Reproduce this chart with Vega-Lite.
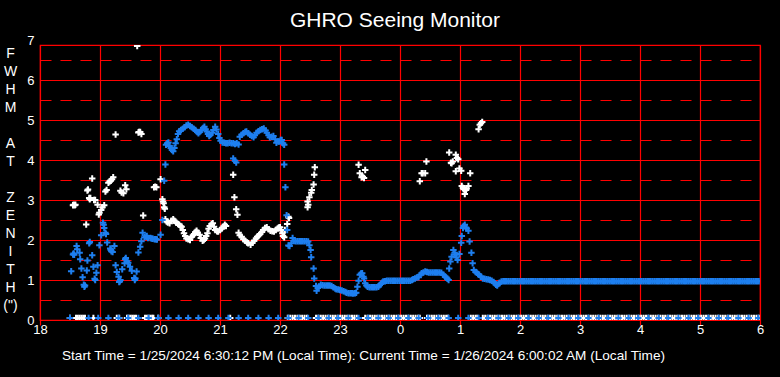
{
"$schema": "https://vega.github.io/schema/vega-lite/v6.json",
"width": 720, "height": 275,
"autosize": {"type": "none"},
"padding": {"left": 40, "top": 45, "right": 20, "bottom": 57},
"background": "#000000",
"title": {"text": "GHRO Seeing Monitor", "color": "#ffffff", "fontSize": 21, "fontWeight": "normal", "font": "Liberation Sans", "anchor": "middle", "frame": "group", "offset": 2, "dx": -5, "dy": -1},
"datasets": {
"white": [
{"t":18.50,"v":0.05},{"t":18.60,"v":0.05},{"t":18.63,"v":0.05},{"t":18.66,"v":0.05},{"t":18.69,"v":0.05},{"t":18.72,"v":0.05},{"t":18.75,"v":0.05},{"t":18.89,"v":0.05},{"t":19.28,"v":0.05},{"t":19.32,"v":0.05},{"t":19.45,"v":0.05},{"t":19.48,"v":0.05},{"t":19.51,"v":0.05},{"t":19.54,"v":0.05},{"t":19.57,"v":0.05},{"t":19.60,"v":0.05},{"t":19.75,"v":0.05},{"t":19.78,"v":0.05},{"t":19.81,"v":0.05},{"t":19.84,"v":0.05},{"t":19.87,"v":0.05},{"t":19.89,"v":0.05},{"t":19.97,"v":0.05},{"t":21.17,"v":0.05},
{"t":22.13,"v":0.05},{"t":22.17,"v":0.05},{"t":22.21,"v":0.05},{"t":22.25,"v":0.05},{"t":22.29,"v":0.05},{"t":22.33,"v":0.05},{"t":22.37,"v":0.05},{"t":22.41,"v":0.05},{"t":22.45,"v":0.05},
{"t":22.60,"v":0.05},{"t":22.64,"v":0.05},{"t":22.68,"v":0.05},{"t":22.72,"v":0.05},{"t":22.76,"v":0.05},{"t":22.80,"v":0.05},{"t":22.84,"v":0.05},{"t":22.88,"v":0.05},{"t":22.92,"v":0.05},{"t":22.96,"v":0.05},{"t":23.00,"v":0.05},{"t":23.04,"v":0.05},{"t":23.08,"v":0.05},{"t":23.12,"v":0.05},{"t":23.16,"v":0.05},{"t":23.20,"v":0.05},{"t":23.24,"v":0.05},{"t":23.28,"v":0.05},
{"t":23.42,"v":0.05},{"t":23.46,"v":0.05},{"t":23.50,"v":0.05},{"t":23.54,"v":0.05},{"t":23.58,"v":0.05},{"t":23.62,"v":0.05},{"t":23.66,"v":0.05},{"t":23.70,"v":0.05},{"t":23.74,"v":0.05},{"t":23.78,"v":0.05},{"t":23.82,"v":0.05},{"t":23.86,"v":0.05},{"t":23.90,"v":0.05},{"t":23.94,"v":0.05},{"t":23.98,"v":0.05},{"t":24.02,"v":0.05},{"t":24.06,"v":0.05},{"t":24.10,"v":0.05},{"t":24.14,"v":0.05},{"t":24.18,"v":0.05},{"t":24.22,"v":0.05},{"t":24.26,"v":0.05},{"t":24.30,"v":0.05},{"t":24.33,"v":0.05},
{"t":24.45,"v":0.05},{"t":24.49,"v":0.05},{"t":24.53,"v":0.05},{"t":24.57,"v":0.05},{"t":24.61,"v":0.05},{"t":24.65,"v":0.05},{"t":24.69,"v":0.05},{"t":24.73,"v":0.05},{"t":24.77,"v":0.05},{"t":24.80,"v":0.05},
{"t":25.18,"v":0.05},{"t":25.22,"v":0.05},{"t":25.26,"v":0.05},{"t":25.29,"v":0.05},
{"t":25.38,"v":0.05},{"t":25.42,"v":0.05},{"t":25.46,"v":0.05},{"t":25.50,"v":0.05},{"t":25.54,"v":0.05},{"t":25.58,"v":0.05},{"t":25.62,"v":0.05},{"t":25.66,"v":0.05},{"t":25.70,"v":0.05},{"t":25.74,"v":0.05},{"t":25.78,"v":0.05},{"t":25.82,"v":0.05},{"t":25.86,"v":0.05},{"t":25.90,"v":0.05},{"t":25.94,"v":0.05},{"t":25.98,"v":0.05},{"t":26.02,"v":0.05},{"t":26.06,"v":0.05},{"t":26.10,"v":0.05},{"t":26.14,"v":0.05},{"t":26.18,"v":0.05},{"t":26.22,"v":0.05},{"t":26.26,"v":0.05},{"t":26.30,"v":0.05},{"t":26.34,"v":0.05},{"t":26.38,"v":0.05},{"t":26.42,"v":0.05},{"t":26.46,"v":0.05},{"t":26.50,"v":0.05},{"t":26.54,"v":0.05},{"t":26.58,"v":0.05},{"t":26.62,"v":0.05},{"t":26.66,"v":0.05},{"t":26.70,"v":0.05},{"t":26.74,"v":0.05},{"t":26.78,"v":0.05},{"t":26.82,"v":0.05},{"t":26.86,"v":0.05},{"t":26.90,"v":0.05},{"t":26.94,"v":0.05},{"t":26.98,"v":0.05},{"t":27.02,"v":0.05},{"t":27.06,"v":0.05},{"t":27.10,"v":0.05},{"t":27.14,"v":0.05},{"t":27.18,"v":0.05},{"t":27.22,"v":0.05},{"t":27.26,"v":0.05},{"t":27.30,"v":0.05},{"t":27.34,"v":0.05},{"t":27.38,"v":0.05},{"t":27.42,"v":0.05},{"t":27.46,"v":0.05},{"t":27.50,"v":0.05},{"t":27.54,"v":0.05},{"t":27.58,"v":0.05},{"t":27.62,"v":0.05},{"t":27.66,"v":0.05},{"t":27.70,"v":0.05},{"t":27.74,"v":0.05},{"t":27.78,"v":0.05},{"t":27.82,"v":0.05},{"t":27.86,"v":0.05},{"t":27.90,"v":0.05},{"t":27.94,"v":0.05},{"t":27.98,"v":0.05},{"t":28.02,"v":0.05},{"t":28.06,"v":0.05},{"t":28.10,"v":0.05},{"t":28.14,"v":0.05},{"t":28.18,"v":0.05},{"t":28.22,"v":0.05},{"t":28.26,"v":0.05},{"t":28.30,"v":0.05},{"t":28.34,"v":0.05},{"t":28.38,"v":0.05},{"t":28.42,"v":0.05},{"t":28.46,"v":0.05},{"t":28.50,"v":0.05},{"t":28.54,"v":0.05},{"t":28.58,"v":0.05},{"t":28.62,"v":0.05},{"t":28.66,"v":0.05},{"t":28.70,"v":0.05},{"t":28.74,"v":0.05},{"t":28.78,"v":0.05},{"t":28.82,"v":0.05},{"t":28.86,"v":0.05},{"t":28.90,"v":0.05},{"t":28.94,"v":0.05},{"t":28.98,"v":0.05},{"t":29.02,"v":0.05},{"t":29.06,"v":0.05},{"t":29.10,"v":0.05},{"t":29.14,"v":0.05},{"t":29.18,"v":0.05},{"t":29.22,"v":0.05},{"t":29.26,"v":0.05},{"t":29.30,"v":0.05},{"t":29.34,"v":0.05},{"t":29.38,"v":0.05},{"t":29.42,"v":0.05},{"t":29.46,"v":0.05},{"t":29.50,"v":0.05},{"t":29.54,"v":0.05},{"t":29.58,"v":0.05},{"t":29.62,"v":0.05},{"t":29.66,"v":0.05},{"t":29.70,"v":0.05},{"t":29.74,"v":0.05},{"t":29.78,"v":0.05},{"t":29.82,"v":0.05},{"t":29.86,"v":0.05},{"t":29.90,"v":0.05},{"t":29.94,"v":0.05},{"t":29.98,"v":0.05},
{"t":18.55,"v":2.87},{"t":18.56,"v":2.88},{"t":18.58,"v":2.87},{"t":18.59,"v":2.88},{"t":18.77,"v":2.39},{"t":18.79,"v":3.24},{"t":18.80,"v":3.26},{"t":18.82,"v":3.05},{"t":18.83,"v":3.02},{"t":18.84,"v":3.05},{"t":18.87,"v":3.54},{"t":18.90,"v":3.00},{"t":18.92,"v":3.00},{"t":18.96,"v":2.88},{"t":18.98,"v":2.64},{"t":18.99,"v":2.68},{"t":19.02,"v":2.75},{"t":19.04,"v":2.82},{"t":19.07,"v":2.87},{"t":19.09,"v":3.21},{"t":19.11,"v":3.25},{"t":19.14,"v":3.43},{"t":19.16,"v":3.46},{"t":19.18,"v":3.48},{"t":19.20,"v":3.52},{"t":19.22,"v":3.57},{"t":19.26,"v":4.64},{"t":19.34,"v":3.23},{"t":19.36,"v":3.19},{"t":19.39,"v":3.17},{"t":19.42,"v":3.37},{"t":19.44,"v":3.27},{"t":19.62,"v":6.85},{"t":19.64,"v":4.69},{"t":19.65,"v":4.70},{"t":19.67,"v":4.70},{"t":19.69,"v":4.65},{"t":19.72,"v":2.61},{"t":19.90,"v":3.32},{"t":19.92,"v":3.33},{"t":19.94,"v":3.32},
{"t":20.01,"v":3.52},{"t":20.04,"v":3.02},{"t":20.05,"v":2.96},{"t":20.06,"v":2.92},{"t":20.07,"v":2.82},{"t":20.08,"v":2.78},{"t":20.09,"v":2.52},{"t":20.11,"v":2.46},{"t":20.13,"v":2.44},{"t":20.16,"v":2.42},{"t":20.19,"v":2.48},{"t":20.22,"v":2.52},{"t":20.24,"v":2.48},{"t":20.27,"v":2.43},{"t":20.30,"v":2.40},{"t":20.32,"v":2.38},{"t":20.34,"v":2.35},{"t":20.36,"v":2.33},{"t":20.38,"v":2.25},{"t":20.40,"v":2.17},{"t":20.42,"v":2.10},{"t":20.44,"v":2.04},{"t":20.47,"v":2.02},{"t":20.50,"v":2.00},{"t":20.53,"v":2.08},{"t":20.55,"v":2.12},{"t":20.57,"v":2.15},{"t":20.59,"v":2.20},{"t":20.61,"v":2.23},{"t":20.63,"v":2.18},{"t":20.66,"v":2.13},{"t":20.68,"v":2.05},{"t":20.71,"v":1.98},{"t":20.73,"v":2.00},{"t":20.75,"v":2.04},{"t":20.77,"v":2.10},{"t":20.79,"v":2.17},{"t":20.81,"v":2.28},{"t":20.83,"v":2.35},{"t":20.86,"v":2.40},{"t":20.88,"v":2.42},{"t":20.90,"v":2.33},{"t":20.92,"v":2.25},{"t":20.95,"v":2.22},{"t":20.97,"v":2.21},{"t":21.00,"v":2.25},{"t":21.03,"v":2.29},{"t":21.06,"v":2.34},{"t":21.08,"v":2.38},{"t":21.10,"v":2.35},
{"t":21.22,"v":3.63},{"t":21.24,"v":3.07},{"t":21.27,"v":2.77},{"t":21.29,"v":2.63},{"t":21.31,"v":2.18},{"t":21.33,"v":2.12},{"t":21.36,"v":2.08},{"t":21.39,"v":2.02},{"t":21.42,"v":1.98},{"t":21.45,"v":1.94},{"t":21.47,"v":1.92},{"t":21.51,"v":1.88},{"t":21.54,"v":1.93},{"t":21.57,"v":1.98},{"t":21.60,"v":2.04},{"t":21.62,"v":2.08},{"t":21.65,"v":2.12},{"t":21.67,"v":2.15},{"t":21.70,"v":2.20},{"t":21.72,"v":2.25},{"t":21.75,"v":2.30},{"t":21.78,"v":2.32},{"t":21.81,"v":2.27},{"t":21.84,"v":2.23},{"t":21.87,"v":2.22},{"t":21.90,"v":2.21},{"t":21.93,"v":2.25},{"t":21.96,"v":2.29},{"t":21.98,"v":2.31},{"t":22.00,"v":2.32},{"t":22.02,"v":2.24},{"t":22.04,"v":2.17},{"t":22.05,"v":2.10},{"t":22.07,"v":2.07},{"t":22.08,"v":2.25},{"t":22.12,"v":2.40},{"t":22.14,"v":2.58},{"t":22.15,"v":2.55},
{"t":22.46,"v":2.82},{"t":22.46,"v":2.96},{"t":22.47,"v":2.88},{"t":22.49,"v":3.07},{"t":22.52,"v":3.18},{"t":22.53,"v":3.25},{"t":22.56,"v":3.39},{"t":22.57,"v":3.63},{"t":22.58,"v":3.82},
{"t":23.31,"v":3.88},{"t":23.33,"v":3.67},{"t":23.36,"v":3.57},{"t":23.38,"v":3.58},{"t":23.40,"v":3.55},{"t":23.42,"v":3.75},
{"t":24.33,"v":3.47},{"t":24.36,"v":3.67},{"t":24.38,"v":3.67},{"t":24.42,"v":3.67},{"t":24.44,"v":3.96},
{"t":24.82,"v":4.19},{"t":24.85,"v":3.93},{"t":24.86,"v":3.92},{"t":24.88,"v":3.96},{"t":24.93,"v":4.13},{"t":24.95,"v":4.05},{"t":24.97,"v":4.02},{"t":24.93,"v":3.72},{"t":24.99,"v":3.79},{"t":25.02,"v":3.73},{"t":25.03,"v":3.35},{"t":25.05,"v":3.30},{"t":25.06,"v":3.27},{"t":25.08,"v":3.15},{"t":25.10,"v":3.25},{"t":25.11,"v":3.29},{"t":25.14,"v":3.35},{"t":25.17,"v":3.67},
{"t":25.31,"v":4.77},{"t":25.33,"v":4.88},{"t":25.35,"v":4.92},{"t":25.37,"v":4.95}
],
"blue": [
{"t":18.52,"v":1.22},{"t":18.55,"v":1.64},{"t":18.56,"v":1.66},{"t":18.57,"v":1.63},{"t":18.61,"v":1.85},{"t":18.62,"v":1.77},{"t":18.66,"v":1.68},{"t":18.67,"v":1.52},{"t":18.69,"v":1.29},{"t":18.71,"v":1.07},{"t":18.73,"v":0.88},{"t":18.74,"v":0.83},{"t":18.75,"v":0.86},{"t":18.78,"v":1.24},{"t":18.79,"v":1.49},{"t":18.82,"v":1.92},{"t":18.83,"v":1.95},{"t":18.87,"v":1.62},{"t":18.89,"v":1.33},{"t":18.91,"v":1.03},{"t":18.92,"v":1.00},{"t":18.94,"v":1.18},{"t":18.96,"v":1.37},{"t":18.99,"v":1.87},{"t":19.02,"v":2.12},{"t":19.05,"v":2.43},{"t":19.06,"v":2.38},{"t":19.07,"v":2.30},{"t":19.09,"v":2.18},{"t":19.10,"v":2.15},{"t":19.12,"v":1.94},{"t":19.17,"v":1.79},{"t":19.18,"v":1.75},{"t":19.19,"v":1.72},{"t":19.21,"v":1.70},{"t":19.24,"v":1.85},{"t":19.26,"v":1.37},{"t":19.28,"v":1.20},{"t":19.31,"v":1.08},{"t":19.32,"v":0.95},{"t":19.33,"v":0.97},{"t":19.34,"v":1.00},{"t":19.37,"v":1.27},{"t":19.41,"v":1.42},{"t":19.42,"v":1.52},{"t":19.43,"v":1.55},{"t":19.45,"v":1.47},{"t":19.47,"v":1.43},{"t":19.50,"v":1.33},{"t":19.53,"v":1.23},{"t":19.57,"v":1.05},{"t":19.58,"v":1.00},{"t":19.59,"v":1.04},{"t":19.61,"v":1.21},{"t":19.64,"v":1.69},{"t":19.67,"v":1.83},{"t":19.69,"v":1.97},{"t":19.71,"v":2.18},{"t":19.74,"v":2.07},{"t":19.77,"v":2.08},{"t":19.78,"v":2.10},{"t":19.80,"v":2.05},{"t":19.84,"v":2.05},{"t":19.86,"v":2.04},{"t":19.88,"v":2.03},{"t":19.91,"v":2.02},{"t":19.93,"v":2.02},{"t":19.95,"v":2.01},{"t":20.01,"v":2.13},{"t":20.04,"v":2.50},{"t":20.07,"v":3.48},{"t":20.09,"v":3.89},
{"t":20.10,"v":4.38},{"t":20.12,"v":4.42},{"t":20.14,"v":4.44},{"t":20.16,"v":4.35},{"t":20.18,"v":4.30},{"t":20.20,"v":4.25},{"t":20.22,"v":4.22},{"t":20.24,"v":4.30},{"t":20.26,"v":4.42},{"t":20.28,"v":4.52},{"t":20.30,"v":4.65},{"t":20.32,"v":4.72},{"t":20.35,"v":4.75},{"t":20.38,"v":4.78},{"t":20.41,"v":4.82},{"t":20.44,"v":4.86},{"t":20.47,"v":4.88},{"t":20.50,"v":4.85},{"t":20.53,"v":4.82},{"t":20.56,"v":4.78},{"t":20.59,"v":4.75},{"t":20.62,"v":4.70},{"t":20.64,"v":4.67},{"t":20.66,"v":4.70},{"t":20.69,"v":4.75},{"t":20.72,"v":4.80},{"t":20.74,"v":4.83},{"t":20.76,"v":4.77},{"t":20.78,"v":4.71},{"t":20.80,"v":4.65},{"t":20.82,"v":4.60},{"t":20.84,"v":4.63},{"t":20.87,"v":4.68},{"t":20.89,"v":4.75},{"t":20.92,"v":4.83},{"t":20.94,"v":4.76},{"t":20.97,"v":4.65},{"t":20.99,"v":4.55},{"t":21.01,"v":4.48},{"t":21.04,"v":4.44},{"t":21.07,"v":4.43},{"t":21.10,"v":4.42},{"t":21.13,"v":4.42},{"t":21.16,"v":4.43},{"t":21.19,"v":4.42},{"t":21.22,"v":4.42},{"t":21.25,"v":4.40},{"t":21.28,"v":4.42},{"t":21.31,"v":4.39},{"t":21.33,"v":4.58},{"t":21.36,"v":4.63},{"t":21.39,"v":4.67},{"t":21.42,"v":4.70},{"t":21.44,"v":4.71},{"t":21.47,"v":4.67},{"t":21.50,"v":4.63},{"t":21.53,"v":4.60},{"t":21.56,"v":4.57},{"t":21.58,"v":4.62},{"t":21.61,"v":4.68},{"t":21.64,"v":4.72},{"t":21.67,"v":4.75},{"t":21.70,"v":4.77},{"t":21.73,"v":4.79},{"t":21.76,"v":4.74},{"t":21.78,"v":4.68},{"t":21.81,"v":4.62},{"t":21.83,"v":4.57},{"t":21.86,"v":4.58},{"t":21.89,"v":4.60},{"t":21.92,"v":4.52},{"t":21.94,"v":4.43},{"t":21.97,"v":4.46},{"t":21.99,"v":4.46},{"t":22.01,"v":4.50},{"t":22.03,"v":4.50},{"t":22.05,"v":4.42},{"t":22.07,"v":4.38},
{"t":21.22,"v":4.04},{"t":21.25,"v":3.98},{"t":21.27,"v":3.94},{"t":22.07,"v":3.89},{"t":22.09,"v":3.32},{"t":22.11,"v":2.62},{"t":22.12,"v":2.25},
{"t":22.14,"v":1.86},{"t":22.16,"v":1.85},{"t":22.19,"v":1.92},{"t":22.21,"v":2.05},{"t":22.23,"v":1.98},{"t":22.26,"v":1.97},{"t":22.29,"v":1.97},{"t":22.32,"v":1.97},{"t":22.35,"v":1.97},{"t":22.38,"v":1.97},{"t":22.41,"v":1.97},{"t":22.44,"v":1.97},{"t":22.47,"v":1.96},{"t":22.49,"v":1.87},{"t":22.51,"v":1.75},{"t":22.52,"v":1.57},{"t":22.56,"v":1.29},{"t":22.57,"v":1.04},{"t":22.60,"v":0.85},{"t":22.61,"v":0.73},{"t":22.63,"v":0.80},{"t":22.65,"v":0.84},{"t":22.68,"v":0.88},{"t":22.71,"v":0.87},{"t":22.74,"v":0.86},{"t":22.77,"v":0.86},{"t":22.80,"v":0.86},{"t":22.83,"v":0.86},{"t":22.86,"v":0.85},{"t":22.89,"v":0.82},{"t":22.92,"v":0.79},{"t":22.94,"v":0.77},{"t":22.97,"v":0.76},{"t":23.00,"v":0.75},{"t":23.03,"v":0.74},{"t":23.06,"v":0.72},{"t":23.09,"v":0.70},{"t":23.11,"v":0.68},{"t":23.14,"v":0.67},{"t":23.17,"v":0.67},{"t":23.20,"v":0.67},{"t":23.22,"v":0.66},{"t":23.25,"v":0.67},{"t":23.27,"v":0.68},{"t":23.29,"v":0.83},{"t":23.31,"v":0.98},{"t":23.33,"v":1.13},{"t":23.35,"v":1.16},{"t":23.37,"v":1.17},{"t":23.39,"v":1.08},{"t":23.40,"v":1.04},{"t":23.42,"v":0.92},{"t":23.44,"v":0.86},{"t":23.46,"v":0.83},{"t":23.49,"v":0.82},{"t":23.52,"v":0.82},{"t":23.55,"v":0.82},{"t":23.58,"v":0.82},{"t":23.61,"v":0.82},{"t":23.64,"v":0.83},{"t":23.66,"v":0.87},{"t":23.68,"v":0.90},{"t":23.70,"v":0.93},{"t":23.72,"v":0.96},{"t":23.75,"v":0.97},{"t":23.78,"v":0.98},{"t":23.81,"v":0.98},{"t":23.84,"v":0.98},{"t":23.87,"v":0.98},{"t":23.90,"v":0.98},{"t":23.93,"v":0.98},{"t":23.96,"v":0.98},{"t":23.99,"v":0.98},{"t":24.02,"v":0.98},{"t":24.05,"v":0.98},{"t":24.08,"v":0.98},{"t":24.11,"v":0.98},{"t":24.14,"v":0.98},{"t":24.17,"v":0.98},{"t":24.20,"v":1.00},{"t":24.22,"v":1.02},{"t":24.25,"v":1.04},{"t":24.28,"v":1.06},{"t":24.31,"v":1.07},{"t":24.34,"v":1.13},{"t":24.36,"v":1.17},{"t":24.39,"v":1.19},{"t":24.42,"v":1.21},{"t":24.45,"v":1.20},{"t":24.48,"v":1.19},{"t":24.51,"v":1.19},{"t":24.54,"v":1.19},{"t":24.57,"v":1.19},{"t":24.60,"v":1.19},{"t":24.63,"v":1.19},{"t":24.66,"v":1.19},{"t":24.69,"v":1.18},{"t":24.72,"v":1.13},{"t":24.75,"v":1.09},{"t":24.77,"v":1.06},{"t":24.79,"v":1.03},{"t":24.81,"v":1.00},{"t":24.82,"v":1.29},{"t":24.84,"v":1.46},{"t":24.86,"v":1.58},{"t":24.89,"v":1.75},{"t":24.91,"v":1.68},{"t":24.92,"v":1.63},{"t":24.94,"v":1.56},{"t":24.96,"v":1.50},{"t":24.99,"v":1.65},{"t":25.02,"v":1.93},{"t":25.03,"v":2.10},{"t":25.05,"v":2.30},{"t":25.06,"v":2.35},{"t":25.08,"v":2.38},{"t":25.10,"v":2.31},{"t":25.11,"v":2.29},{"t":25.14,"v":2.23},{"t":25.16,"v":1.96},{"t":25.19,"v":1.68},{"t":25.21,"v":1.42},{"t":25.23,"v":1.25},{"t":25.26,"v":1.20},{"t":25.28,"v":1.18},{"t":25.30,"v":1.15},{"t":25.32,"v":1.13},{"t":25.35,"v":1.08},{"t":25.38,"v":1.04},{"t":25.41,"v":1.03},{"t":25.44,"v":1.02},{"t":25.47,"v":1.01},{"t":25.50,"v":1.00},{"t":25.53,"v":0.98},{"t":25.56,"v":0.95},{"t":25.58,"v":0.92},{"t":25.60,"v":0.88},{"t":25.62,"v":0.86},{"t":25.64,"v":0.90},{"t":25.66,"v":0.93},{"t":25.69,"v":0.96},{"t":25.72,"v":0.97},
{"t":25.75,"v":0.97},{"t":25.78,"v":0.97},{"t":25.81,"v":0.97},{"t":25.84,"v":0.97},{"t":25.87,"v":0.97},{"t":25.90,"v":0.97},{"t":25.93,"v":0.97},{"t":25.96,"v":0.97},{"t":25.99,"v":0.97},{"t":26.02,"v":0.97},{"t":26.05,"v":0.97},{"t":26.08,"v":0.97},{"t":26.11,"v":0.97},{"t":26.14,"v":0.97},{"t":26.17,"v":0.97},{"t":26.20,"v":0.97},{"t":26.23,"v":0.97},{"t":26.26,"v":0.97},{"t":26.29,"v":0.97},{"t":26.32,"v":0.97},{"t":26.35,"v":0.97},{"t":26.38,"v":0.97},{"t":26.41,"v":0.97},{"t":26.44,"v":0.97},{"t":26.47,"v":0.97},{"t":26.50,"v":0.97},{"t":26.53,"v":0.97},{"t":26.56,"v":0.97},{"t":26.59,"v":0.97},{"t":26.62,"v":0.97},{"t":26.65,"v":0.97},{"t":26.68,"v":0.97},{"t":26.71,"v":0.97},{"t":26.74,"v":0.97},{"t":26.77,"v":0.97},{"t":26.80,"v":0.97},{"t":26.83,"v":0.97},{"t":26.86,"v":0.97},{"t":26.89,"v":0.97},{"t":26.92,"v":0.97},{"t":26.95,"v":0.97},{"t":26.98,"v":0.97},{"t":27.01,"v":0.97},{"t":27.04,"v":0.97},{"t":27.07,"v":0.97},{"t":27.10,"v":0.97},{"t":27.13,"v":0.97},{"t":27.16,"v":0.97},{"t":27.19,"v":0.97},{"t":27.22,"v":0.97},{"t":27.25,"v":0.97},{"t":27.28,"v":0.97},{"t":27.31,"v":0.97},{"t":27.34,"v":0.97},{"t":27.37,"v":0.97},{"t":27.40,"v":0.97},{"t":27.43,"v":0.97},{"t":27.46,"v":0.97},{"t":27.49,"v":0.97},{"t":27.52,"v":0.97},{"t":27.55,"v":0.97},{"t":27.58,"v":0.97},{"t":27.61,"v":0.97},{"t":27.64,"v":0.97},{"t":27.67,"v":0.97},{"t":27.70,"v":0.97},{"t":27.73,"v":0.97},{"t":27.76,"v":0.97},{"t":27.79,"v":0.97},{"t":27.82,"v":0.97},{"t":27.85,"v":0.97},{"t":27.88,"v":0.97},{"t":27.91,"v":0.97},{"t":27.94,"v":0.97},{"t":27.97,"v":0.97},{"t":28.00,"v":0.97},{"t":28.03,"v":0.97},{"t":28.06,"v":0.97},{"t":28.09,"v":0.97},{"t":28.12,"v":0.97},{"t":28.15,"v":0.97},{"t":28.18,"v":0.97},{"t":28.21,"v":0.97},{"t":28.24,"v":0.97},{"t":28.27,"v":0.97},{"t":28.30,"v":0.97},{"t":28.33,"v":0.97},{"t":28.36,"v":0.97},{"t":28.39,"v":0.97},{"t":28.42,"v":0.97},{"t":28.45,"v":0.97},{"t":28.48,"v":0.97},{"t":28.51,"v":0.97},{"t":28.54,"v":0.97},{"t":28.57,"v":0.97},{"t":28.60,"v":0.97},{"t":28.63,"v":0.97},{"t":28.66,"v":0.97},{"t":28.69,"v":0.97},{"t":28.72,"v":0.97},{"t":28.75,"v":0.97},{"t":28.78,"v":0.97},{"t":28.81,"v":0.97},{"t":28.84,"v":0.97},{"t":28.87,"v":0.97},{"t":28.90,"v":0.97},{"t":28.93,"v":0.97},{"t":28.96,"v":0.97},{"t":28.99,"v":0.97},{"t":29.02,"v":0.97},{"t":29.05,"v":0.97},{"t":29.08,"v":0.97},{"t":29.11,"v":0.97},{"t":29.14,"v":0.97},{"t":29.17,"v":0.97},{"t":29.20,"v":0.97},{"t":29.23,"v":0.97},{"t":29.26,"v":0.97},{"t":29.29,"v":0.97},{"t":29.32,"v":0.97},{"t":29.35,"v":0.97},{"t":29.38,"v":0.97},{"t":29.41,"v":0.97},{"t":29.44,"v":0.97},{"t":29.47,"v":0.97},{"t":29.50,"v":0.97},{"t":29.53,"v":0.97},{"t":29.56,"v":0.97},{"t":29.59,"v":0.97},{"t":29.62,"v":0.97},{"t":29.65,"v":0.97},{"t":29.68,"v":0.97},{"t":29.71,"v":0.97},{"t":29.74,"v":0.97},{"t":29.77,"v":0.97},{"t":29.80,"v":0.97},{"t":29.83,"v":0.97},{"t":29.86,"v":0.97},{"t":29.89,"v":0.97},{"t":29.92,"v":0.97},{"t":29.95,"v":0.97},{"t":29.98,"v":0.97},
{"t":18.50,"v":0.05},{"t":18.81,"v":0.05},{"t":18.97,"v":0.05},{"t":19.14,"v":0.05},{"t":19.31,"v":0.05},{"t":19.47,"v":0.05},{"t":19.64,"v":0.05},{"t":19.81,"v":0.05},{"t":19.97,"v":0.05},{"t":20.14,"v":0.05},{"t":20.31,"v":0.05},{"t":20.47,"v":0.05},{"t":20.64,"v":0.05},{"t":20.81,"v":0.05},{"t":20.97,"v":0.05},{"t":21.14,"v":0.05},{"t":21.31,"v":0.05},{"t":21.47,"v":0.05},{"t":21.64,"v":0.05},{"t":21.81,"v":0.05},{"t":21.97,"v":0.05},{"t":22.14,"v":0.05},{"t":22.31,"v":0.05},{"t":22.47,"v":0.05},{"t":22.64,"v":0.05},{"t":22.81,"v":0.05},{"t":22.97,"v":0.05},{"t":23.14,"v":0.05},{"t":23.31,"v":0.05},{"t":23.47,"v":0.05},{"t":23.64,"v":0.05},{"t":23.81,"v":0.05},{"t":23.97,"v":0.05},{"t":24.14,"v":0.05},{"t":24.31,"v":0.05},{"t":24.47,"v":0.05},{"t":24.64,"v":0.05},{"t":24.81,"v":0.05},{"t":24.97,"v":0.05},{"t":25.14,"v":0.05},{"t":25.31,"v":0.05},{"t":25.47,"v":0.05},{"t":25.64,"v":0.05},{"t":25.81,"v":0.05},{"t":25.97,"v":0.05},{"t":26.14,"v":0.05},{"t":26.31,"v":0.05},{"t":26.47,"v":0.05},{"t":26.64,"v":0.05},{"t":26.81,"v":0.05},{"t":26.97,"v":0.05},{"t":27.14,"v":0.05},{"t":27.31,"v":0.05},{"t":27.47,"v":0.05},{"t":27.64,"v":0.05},{"t":27.81,"v":0.05},{"t":27.97,"v":0.05},{"t":28.14,"v":0.05},{"t":28.31,"v":0.05},{"t":28.47,"v":0.05},{"t":28.64,"v":0.05},{"t":28.81,"v":0.05},{"t":28.97,"v":0.05},{"t":29.14,"v":0.05},{"t":29.31,"v":0.05},{"t":29.47,"v":0.05},{"t":29.64,"v":0.05},{"t":29.81,"v":0.05},{"t":29.97,"v":0.05}
]
},
"encoding": {
"x": {"field": "t", "type": "quantitative", "scale": {"domain": [18, 30], "nice": false, "zero": false},
 "axis": {"values": [18,19,20,21,22,23,24,25,26,27,28,29,30], "labelExpr": "datum.value >= 24 ? datum.value - 24 : datum.value", "grid": true, "gridColor": "#ff0000", "gridWidth": 1.2, "domain": false, "ticks": false, "labelColor": "#ffffff", "labelFont": "Liberation Sans", "labelFontSize": 13, "labelPadding": 3, "labelFlush": false, "labelOverlap": false,
 "title": "Start Time = 1/25/2024 6:30:12 PM (Local Time): Current Time = 1/26/2024 6:00:02 AM (Local Time)", "titleColor": "#ffffff", "titleFont": "Liberation Sans", "titleFontSize": 13.6, "titleFontWeight": "normal", "titleX": 323, "titleY": 35, "titleAlign": "center", "titleBaseline": "middle", "titleAnchor": null}},
"y": {"field": "v", "type": "quantitative", "scale": {"domain": [0, 7], "range": [275, -5], "nice": false, "zero": false},
 "axis": {"values": [0,0.5,1,1.5,2,2.5,3,3.5,4,4.5,5,5.5,6,6.5,7], "labelExpr": "datum.value % 1 === 0 ? datum.value : ''", "grid": true, "gridColor": "#ff0000", "gridWidth": 1.2,
 "gridDash": {"condition": {"test": "datum.value % 1 !== 0", "value": [11, 9]}, "value": []},
 "gridOpacity": {"condition": {"test": "datum.value > 6.9", "value": 0}, "value": 1},
 "domain": false, "ticks": false, "labelColor": "#ffffff", "labelFont": "Liberation Sans", "labelFontSize": 13, "labelPadding": 6, "labelOverlap": false, "labelBound": false,
 "title": ["F","W","H","M","\u2800","A","T","\u2800","Z","E","N","I","T","H","(\")"], "titleColor": "#ffffff", "titleFont": "Liberation Sans", "titleFontSize": 14, "titleFontWeight": "normal", "titleAngle": 0, "titleX": -30, "titleY": 8, "titleAlign": "center", "titleBaseline": "middle", "titleLineHeight": 18, "titleAnchor": null}}
},
"layer": [
 {"data": {"name": "white"}, "mark": {"type": "point", "shape": "M-1,0H1M0,-1V1", "filled": false, "color": "#ffffff", "size": 42, "strokeWidth": 2, "opacity": 1, "clip": true}},
 {"data": {"name": "blue"}, "mark": {"type": "point", "shape": "M-1,0H1M0,-1V1", "filled": false, "color": "#1e7fef", "size": 42, "strokeWidth": 2, "opacity": 1, "clip": true}}
],
"config": {"view": {"stroke": "#ff0000", "strokeWidth": 1.2}, "font": "Liberation Sans"}
}
